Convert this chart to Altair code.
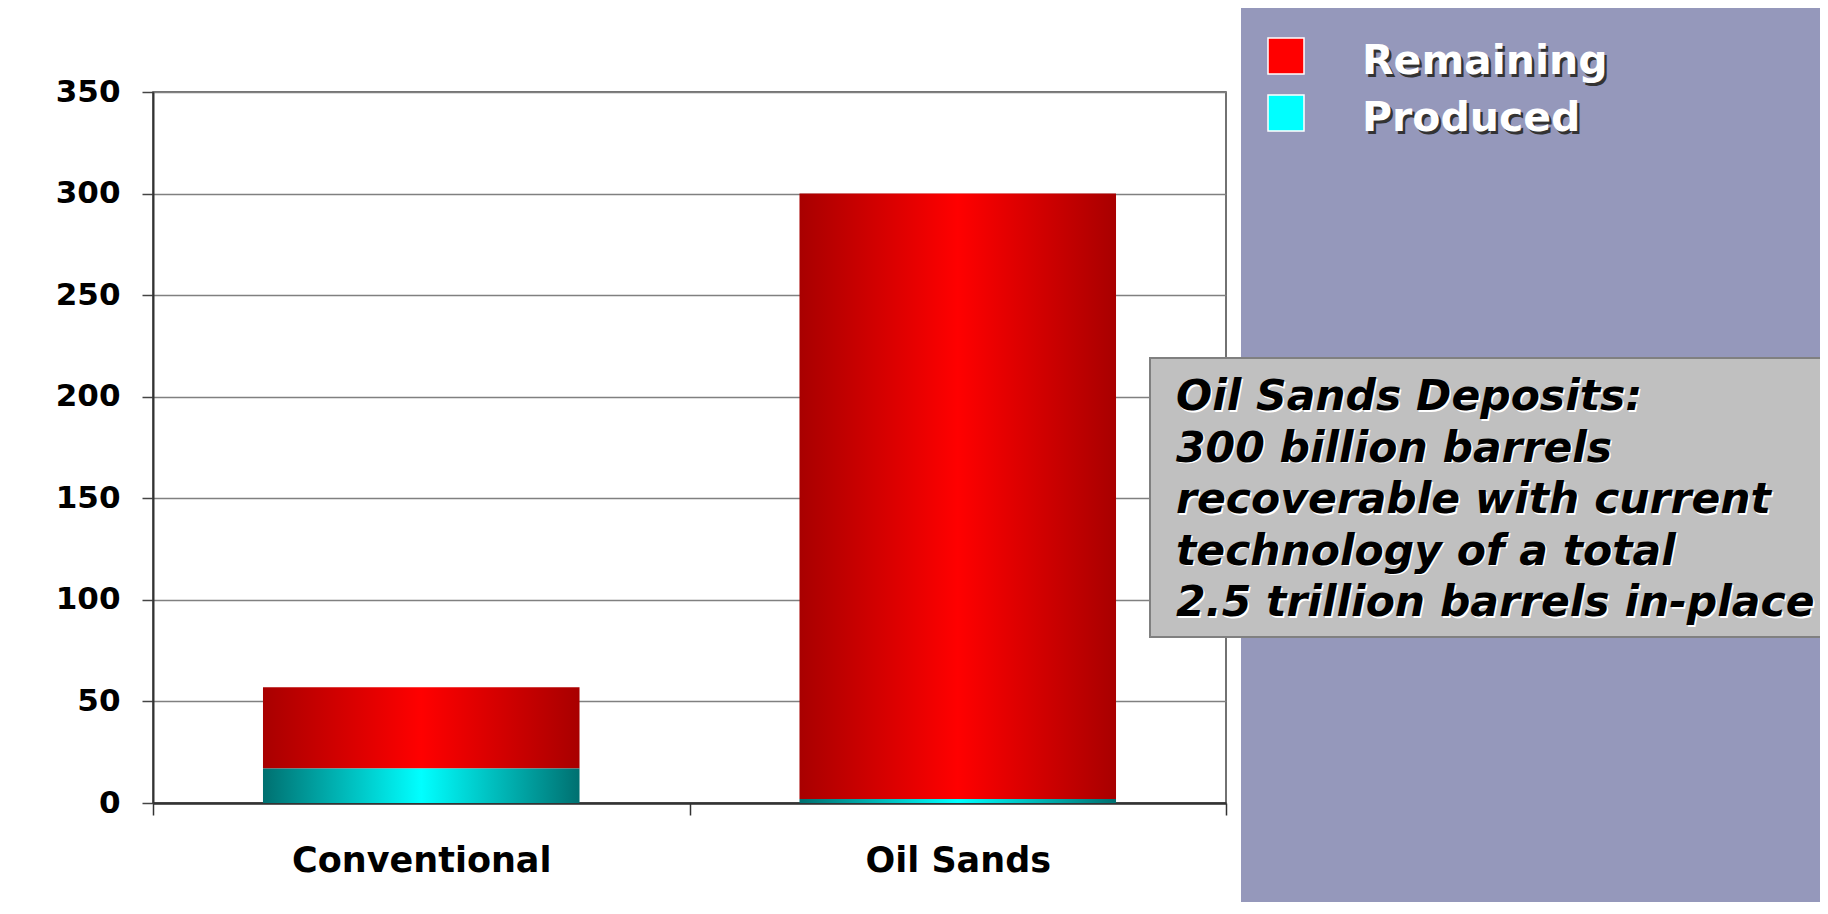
import altair as alt
import pandas as pd

# ---- data ----
categories = ["Conventional", "Oil Sands"]
series_names = ["Remaining", "Produced"]
produced = [17, 2]
remaining = [40, 298]
y_ticks = [0, 50, 100, 150, 200, 250, 300, 350]
annotation_lines = [
    "Oil Sands Deposits:",
    "300 billion barrels",
    "recoverable with current",
    "technology of a total",
    "2.5 trillion barrels in-place",
]

rows = []
for c, p, r in zip(categories, produced, remaining):
    rows.append({"category": c, "series": "Produced", "value": p, "order": 0})
    rows.append({"category": c, "series": "Remaining", "value": r, "order": 1})
df = pd.DataFrame(rows)
one = pd.DataFrame({"d": [0]})

FONT = "DejaVu Sans"
PURPLE = "#9598BB"
legend_colors = {"Remaining": "#FF0000", "Produced": "#00FFFF"}

x_enc = alt.X(
    "category:N",
    sort=categories,
    scale=alt.Scale(paddingInner=0, paddingOuter=0),
    axis=alt.Axis(
        title=None, labelAngle=0, labelFont=FONT, labelFontWeight="bold",
        labelFontSize=35, labelColor="black", labelPadding=28, labelLimit=500,
        tickBand="extent", tickSize=12, tickColor="#333333", tickWidth=1.5,
        domainColor="#333333", domainWidth=2.5, grid=False,
    ),
)
y_enc = alt.Y(
    "y0:Q",
    scale=alt.Scale(domain=[0, 350], nice=False),
    axis=alt.Axis(
        title=None, values=y_ticks, labelFont=FONT, labelFontWeight="bold",
        labelFontSize=31, labelColor="black", labelPadding=22,
        tickSize=11, tickColor="#444444", tickWidth=1.5,
        domainColor="#333333", domainWidth=2,
        grid=True, gridColor="#808080", gridWidth=1.3,
    ),
)


def stacked(chart):
    return chart.transform_stack(
        stack="value", groupby=["category"], as_=["y0", "y1"],
        sort=[alt.SortField("order", order="ascending")],
    )


def grad(edge, center):
    return alt.Gradient(
        gradient="linear",
        stops=[
            alt.GradientStop(color=edge, offset=0),
            alt.GradientStop(color=center, offset=0.5),
            alt.GradientStop(color=edge, offset=1),
        ],
        x1=0, x2=1, y1=0, y2=0,
    )


red_bars = stacked(alt.Chart(df)).transform_filter(
    alt.datum.series == "Remaining"
).mark_bar(width=alt.RelativeBandSize(0.59), color=grad("#A80000", "#FF0000")).encode(
    x=x_enc, y=y_enc, y2="y1:Q"
)
cyan_bars = stacked(alt.Chart(df)).transform_filter(
    alt.datum.series == "Produced"
).mark_bar(width=alt.RelativeBandSize(0.59), color=grad("#007070", "#00FFFF")).encode(
    x=x_enc, y=y_enc, y2="y1:Q"
)

purple = alt.Chart(one).mark_rect(color=PURPLE).encode(
    x=alt.value(1088), x2=alt.value(1800), y=alt.value(-120), y2=alt.value(900)
)

box = alt.Chart(one).mark_rect(fill="#C0C0C0", stroke="#808080", strokeWidth=2).encode(
    x=alt.value(997), x2=alt.value(1800), y=alt.value(266), y2=alt.value(545)
)

text_kw = dict(align="left", baseline="alphabetic", font=FONT, fontWeight="bold",
               fontStyle="italic", fontSize=42.5, lineHeight=51.5)
text_shadow = alt.Chart(one).mark_text(color="white", dx=1.5, dy=1.5, **text_kw).encode(
    x=alt.value(1023), y=alt.value(318), text=alt.value(annotation_lines)
)
text_main = alt.Chart(one).mark_text(color="black", **text_kw).encode(
    x=alt.value(1023), y=alt.value(318), text=alt.value(annotation_lines)
)

# ---- legend (squares + shadowed labels) ----
leg_kw = dict(align="left", baseline="alphabetic", font=FONT, fontWeight="bold", fontSize=41)
legend_layers = []
for i, name in enumerate(series_names):
    ys = -36 + 57 * i
    yt = -18 + 57 * i
    legend_layers.append(
        alt.Chart(one).mark_square(size=1296, fill=legend_colors[name], stroke="white",
                                   strokeWidth=1.5, opacity=1, filled=True).encode(
            x=alt.value(1133), y=alt.value(ys))
    )
    legend_layers.append(
        alt.Chart(one).mark_text(text=name, color="#333333", dx=2.5, dy=2.5, **leg_kw).encode(
            x=alt.value(1209), y=alt.value(yt))
    )
    legend_layers.append(
        alt.Chart(one).mark_text(text=name, color="white", **leg_kw).encode(
            x=alt.value(1209), y=alt.value(yt))
    )

chart = alt.layer(
    purple, red_bars, cyan_bars, box, text_shadow, text_main, *legend_layers
).properties(
    width=1073,
    height=711,
    autosize=alt.AutoSizeParams(type="none"),
    padding={"left": 145, "top": 84, "right": 594, "bottom": 99},
    background="white",
).configure_view(stroke="#444444", strokeWidth=1.5)

chart.save("out.html", embed_options={"renderer": "svg", "actions": False})
